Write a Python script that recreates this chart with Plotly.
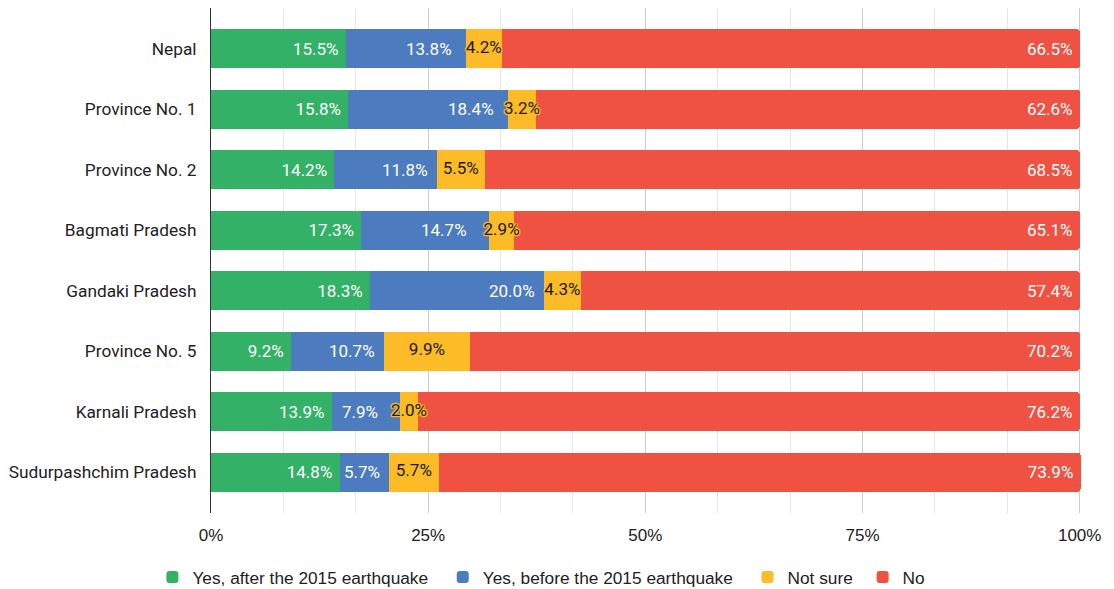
import plotly.graph_objects as go

# Regions, top to bottom
regions = [
    "Nepal",
    "Province No. 1",
    "Province No. 2",
    "Bagmati Pradesh",
    "Gandaki Pradesh",
    "Province No. 5",
    "Karnali Pradesh",
    "Sudurpashchim Pradesh",
]

# Share of respondents (%) per answer
yes_after = [15.5, 15.8, 14.2, 17.3, 18.3, 9.2, 13.9, 14.8]
yes_before = [13.8, 18.4, 11.8, 14.7, 20.0, 10.7, 7.9, 5.7]
not_sure = [4.2, 3.2, 5.5, 2.9, 4.3, 9.9, 2.0, 5.7]
no = [66.5, 62.6, 68.5, 65.1, 57.4, 70.2, 76.2, 73.9]

series_names = [
    "Yes, after the 2015 earthquake",
    "Yes, before the 2015 earthquake",
    "Not sure",
    "No",
]
series_values = [yes_after, yes_before, not_sure, no]
series_colors = ["#33b166", "#4c7bc0", "#fcbb27", "#ef5142"]
text_colors = ["#ffffff", "#ffffff", "#1a1a1a", "#ffffff"]

x_ticks = [0, 25, 50, 75, 100]
x_tick_labels = ["0%", "25%", "50%", "75%", "100%"]

NBSP = "\u00a0"
LABEL_FONT = "Roboto"
AXIS_FONT = "Liberation Sans, Arial"


def pct(v):
    return f"{v:.1f}%"


def right_gap(next_share):
    # keep a label clear of the following narrow segment's centred label
    if next_share < 3.0:
        return 20
    if next_share < 4.25:
        return 12
    return 7


legend_pad = [NBSP * 2, NBSP * 2, NBSP, ""]

fig = go.Figure()
for i, (name, vals, color, tcolor) in enumerate(
    zip(series_names, series_values, series_colors, text_colors)
):
    # green and red segments carry their own right-aligned labels
    labels = [pct(v) + NBSP for v in vals] if i in (0, 3) else None
    fig.add_trace(
        go.Bar(
            y=regions,
            x=vals,
            name=name + legend_pad[i],
            orientation="h",
            marker=dict(color=color, line=dict(width=0)),
            text=labels,
            textposition="inside" if labels else "none",
            insidetextanchor="end",
            constraintext="none",
            textangle=0,
            textfont=dict(family=LABEL_FONT, size=17, color=tcolor),
            hoverinfo="skip",
            cliponaxis=False,
        )
    )

# "Yes, before" labels: right-aligned at the segment end
before_end = [a + b for a, b in zip(yes_after, yes_before)]
for region, end, v, nxt in zip(regions, before_end, yes_before, not_sure):
    fig.add_annotation(
        x=end,
        y=region,
        text=pct(v),
        showarrow=False,
        xanchor="right",
        yanchor="middle",
        xshift=-right_gap(nxt),
        font=dict(family=LABEL_FONT, size=17, color=text_colors[1]),
    )

# "Not sure" labels, centred on their segments, with a halo in the segment colour
not_sure_mid = [e + c / 2 for e, c in zip(before_end, not_sure)]
halo = ", ".join(
    f"{dx}px {dy}px 1px {series_colors[2]}"
    for dx, dy in [(1, 0), (-1, 0), (0, 1), (0, -1), (1, 1), (-1, -1), (1, -1), (-1, 1)]
)
fig.add_trace(
    go.Scatter(
        x=not_sure_mid,
        y=regions,
        mode="text",
        text=[pct(v) for v in not_sure],
        textposition="middle center",
        textfont=dict(family=LABEL_FONT, size=17, color=text_colors[2], shadow=halo),
        showlegend=False,
        hoverinfo="skip",
        cliponaxis=False,
    )
)

fig.update_layout(
    barmode="stack",
    bargap=0.355,
    barcornerradius=3,
    width=1114,
    height=589,
    margin=dict(l=211, r=33, t=8, b=76),
    paper_bgcolor="white",
    plot_bgcolor="white",
    showlegend=True,
    legend=dict(
        orientation="h",
        x=0.486,
        xref="container",
        xanchor="center",
        y=0.02,
        yref="container",
        yanchor="middle",
        font=dict(family=AXIS_FONT, size=17.3, color="#222222"),
        traceorder="normal",
        itemwidth=30,
    ),
    xaxis=dict(
        range=[0, 100.15],
        tickvals=x_ticks,
        ticktext=x_tick_labels,
        tickfont=dict(family=AXIS_FONT, size=17, color="#222222"),
        showgrid=True,
        gridcolor="#cccccc",
        gridwidth=1,
        zeroline=False,
        showline=False,
        ticks="",
        ticklabelstandoff=10,
        minor=dict(
            tick0=0,
            dtick=25 / 3,
            showgrid=True,
            gridcolor="#e6e6e6",
            gridwidth=1,
        ),
        fixedrange=True,
    ),
    yaxis=dict(
        categoryorder="array",
        categoryarray=regions,
        range=[7.675, -0.675],
        tickfont=dict(family=LABEL_FONT, size=17.3, color="#222222"),
        showline=True,
        linecolor="#333333",
        linewidth=1,
        showgrid=False,
        ticks="",
        ticklabelstandoff=10,
        fixedrange=True,
    ),
)

fig.write_html("out.html")
